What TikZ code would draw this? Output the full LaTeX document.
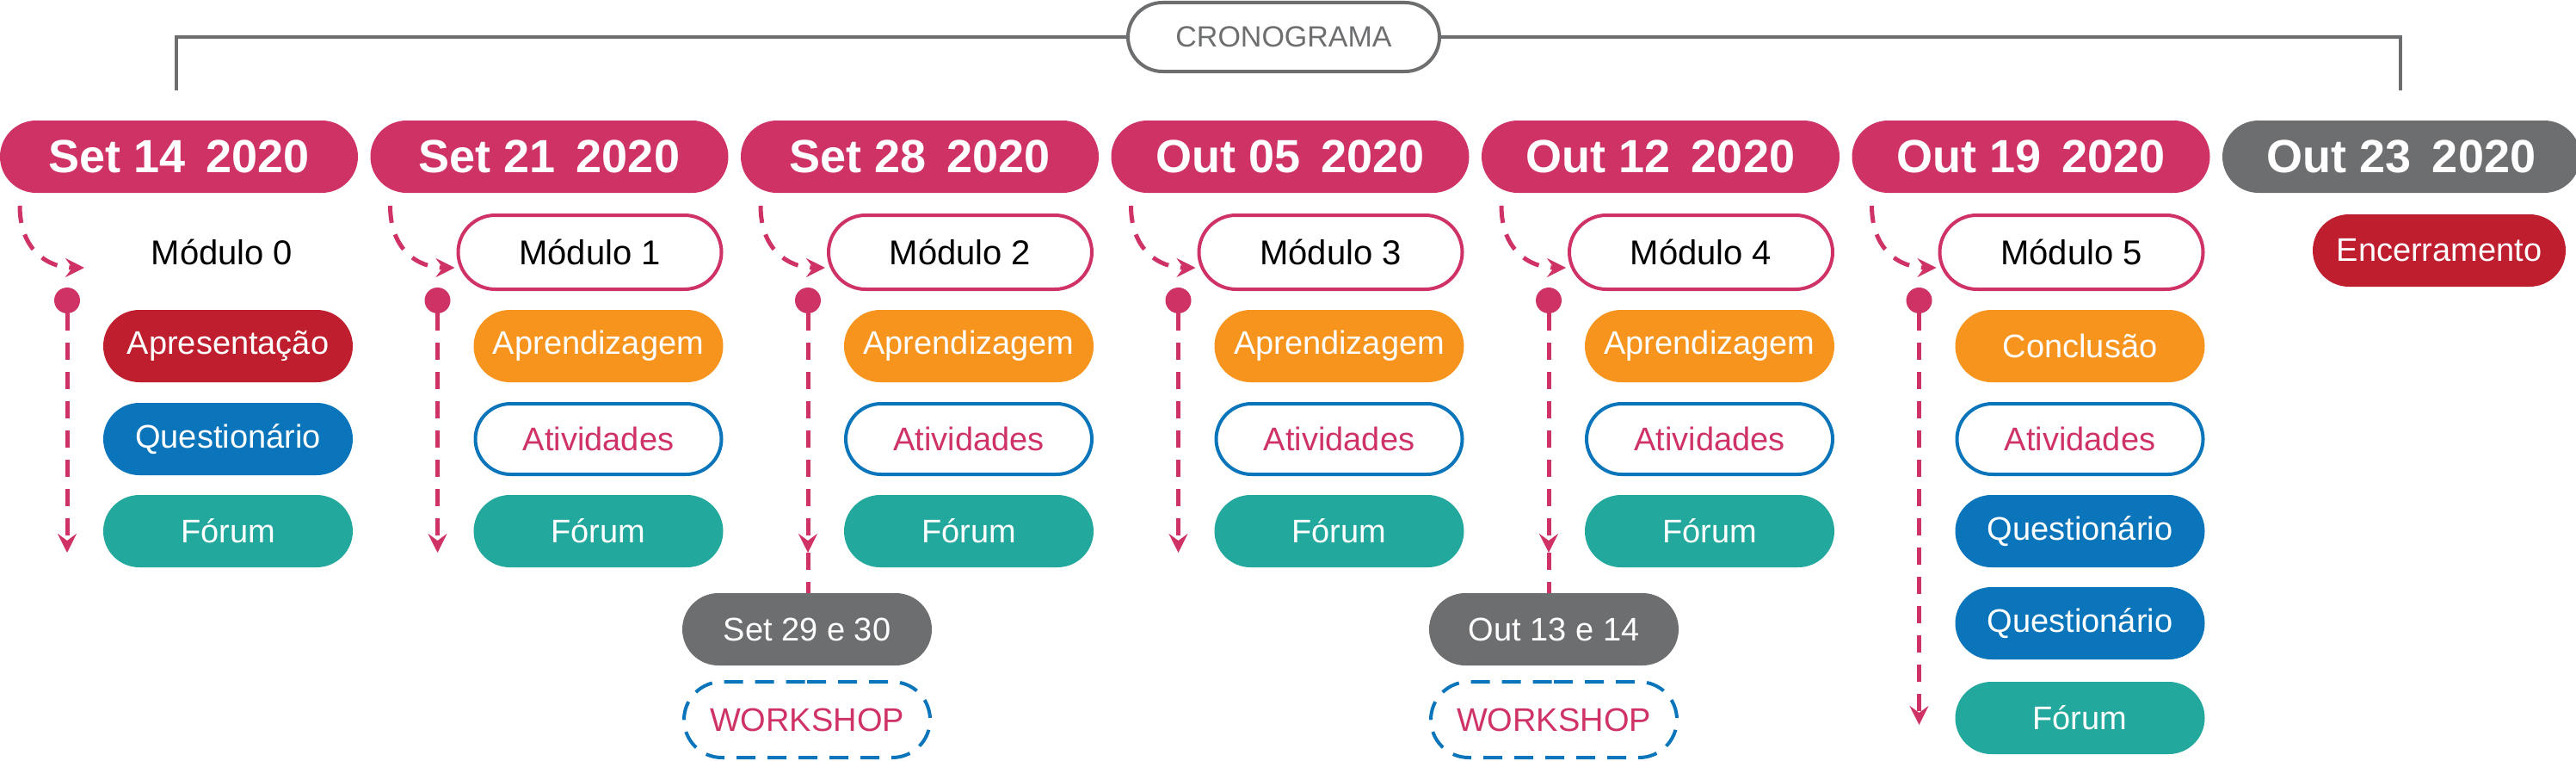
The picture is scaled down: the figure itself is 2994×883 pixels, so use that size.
\documentclass[tikz,border=0pt]{standalone}
\usepackage{fontspec}
\setmainfont{Liberation Sans}
\usetikzlibrary{shapes.misc,arrows.meta}
\definecolor{mag}{HTML}{CF3366}
\definecolor{rd}{HTML}{BE1E2D}
\definecolor{bl}{HTML}{0B75BB}
\definecolor{org}{HTML}{F7941D}
\definecolor{tl}{HTML}{22A89C}
\definecolor{gr}{HTML}{6D6E70}
\begin{document}
\begin{tikzpicture}[x=1pt,y=-1pt,
  pill/.style={rounded rectangle,inner sep=0pt,minimum height=84pt},
  date/.style={pill,fill=#1,text=white,minimum width=416pt,font=\fontsize{54}{60}\selectfont\bfseries},
  item/.style={pill,fill=#1,text=white,minimum width=290pt,font=\fontsize{38}{44}\selectfont},
  mod/.style={pill,draw=mag,line width=4pt,minimum width=306pt,minimum height=86pt,font=\fontsize{40}{46}\selectfont},
  ativ/.style={pill,draw=bl,line width=4pt,text=mag,minimum width=286pt,minimum height=82pt,font=\fontsize{38}{44}\selectfont},
  flow/.style={draw=mag,line width=5pt,dash pattern=on 20pt off 14pt},
  tip/.style={-{Stealth[length=22pt,width=22pt,inset=8pt]}},
  dot/.style={circle,fill=mag,inner sep=0pt,minimum size=30pt},
  work/.style={pill,draw=bl,line width=4pt,dash pattern=on 22pt off 14pt,text=mag,minimum width=286pt,minimum height=88pt,font=\fontsize{38}{44}\selectfont}]
\useasboundingbox (0,0) rectangle (2994,883);
% title
\node[pill,draw=gr,line width=4pt,fill=white,minimum width=362pt,minimum height=80pt,text=gr,font=\fontsize{34}{40}\selectfont] (title) at (1492,43) {CRONOGRAMA};
\coordinate (tl) at (205,105); \coordinate (tr) at (2790,105);
\draw[gr,line width=4pt] (title.west) -- (205,43) -- (tl);
\draw[gr,line width=4pt] (title.east) -- (2790,43) -- (tr);
% dates
\def\cw{430.5}
\foreach \i/\t/\c in {0/Set 14\, 2020/mag,1/Set 21\, 2020/mag,2/Set 28\, 2020/mag,3/Out 05\, 2020/mag,4/Out 12\, 2020/mag,5/Out 19\, 2020/mag,6/Out 23\, 2020/gr}
  \node[date=\c] (d\i) at ({\i*\cw+208},182) {\t};
% modules
\node[font=\fontsize{40}{46}\selectfont] (m0) at (258,293) {Módulo 0};
\foreach \i in {1,...,5}
  \node[mod] (m\i) at ({\i*\cw+255},293) {Módulo \i};
% items
\node[item=rd] (a0) at (265,402) {Apresentação};
\node[item=bl] (b0) at (265,510) {Questionário};
\node[item=tl] (c0) at (265,617) {Fórum};
\foreach \i in {1,...,4}{
  \node[item=org] (a\i) at ({\i*\cw+265},402) {Aprendizagem};
  \node[ativ] (b\i) at ({\i*\cw+265},510) {Atividades};
  \node[item=tl] (c\i) at ({\i*\cw+265},617) {Fórum};
}
\node[item=org] (a5) at ({5*\cw+265},402) {Conclusão};
\node[ativ] (b5) at ({5*\cw+265},510) {Atividades};
\node[item=bl] (q5) at ({5*\cw+265},617) {Questionário};
\node[item=bl] (r5) at ({5*\cw+265},724) {Questionário};
\node[item=tl] (c5) at ({5*\cw+265},834) {Fórum};
\node[item=rd,minimum width=294pt] (enc) at (2835,291) {Encerramento};
% workshops
\node[item=gr] (w1) at (938,731) {Set 29 e 30};
\node[work] (k1) at (938,836) {WORKSHOP};
\node[item=gr] (w2) at (1806,731) {Out 13 e 14};
\node[work] (k2) at (1806,836) {WORKSHOP};
% flows
\foreach \i in {0,...,5}{
  \coordinate (s\i) at ({\i*\cw+23},239);
  \coordinate (e\i) at ({\i*\cw+98},311);
  \node[dot] (p\i) at ({\i*\cw+78},349) {};
  \draw[flow,tip] (s\i) .. controls ({\i*\cw+23},290) and ({\i*\cw+55},311) .. (e\i);
}
\foreach \i/\y in {0/642,1/642,3/642,5/842}{
  \coordinate (z\i) at ({\i*\cw+78},\y);
  \draw[flow,tip] (p\i.south) -- (z\i);
}
\foreach \i/\w in {2/w1,4/w2}{
  \coordinate (z\i) at ({\i*\cw+78},642);
  \draw[flow,tip] (p\i.south) -- (z\i);
  \draw[flow] (z\i) -- (\w.north -| z\i);
}
\end{tikzpicture}
\end{document}
